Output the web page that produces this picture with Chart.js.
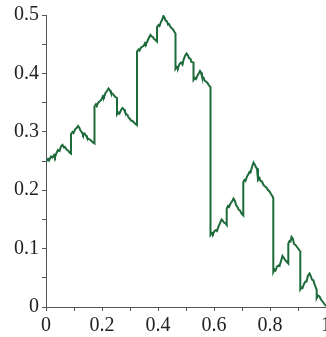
<!DOCTYPE html>
<html>
<head>
<meta charset="utf-8">
<script src="https://cdn.jsdelivr.net/npm/chart.js@4"></script>
<style>
  html, body { margin: 0; padding: 0; background: #fff; overflow: hidden; }
  #box { position: absolute; left: 0; top: 0; width: 346px; height: 337px; }
</style>
</head>
<body>
<div id="box"><canvas id="myChart" width="346" height="337"></canvas></div>
<script>
// 곡선의 꼭짓점 (x, y) - 그림에서 읽은 값
let xs = [
    0, 0.0071, 0.0107, 0.0179, 0.0232, 0.0286, 0.0321, 0.0375, 0.0429, 0.0482, 0.0536, 0.0589, 0.0643, 0.0679, 0.0732, 0.0786, 0.0839, 0.0893,
    0.0893, 0.0946, 0.0982, 0.1036, 0.1089, 0.1143, 0.1196, 0.1232, 0.1286, 0.1321, 0.1375, 0.1429, 0.1464, 0.1518, 0.1571, 0.1625, 0.1679, 0.1732,
    0.1732, 0.1786, 0.1821, 0.1875, 0.1929, 0.1982, 0.2036, 0.2071, 0.2125, 0.2179, 0.2232, 0.2286, 0.2321, 0.2375, 0.2429, 0.2482, 0.2536,
    0.2536, 0.2589, 0.2625, 0.2679, 0.2732, 0.2786, 0.2821, 0.2857, 0.2911, 0.2946, 0.3000, 0.3036, 0.3089, 0.3143, 0.3196, 0.3250,
    0.3250, 0.3304, 0.3339, 0.3393, 0.3446, 0.3500, 0.3536, 0.3571, 0.3625, 0.3679, 0.3732, 0.3768, 0.3821, 0.3857, 0.3911, 0.3964,
    0.3964, 0.4018, 0.4054, 0.4107, 0.4143, 0.4196, 0.4232, 0.4268, 0.4321, 0.4357, 0.4393, 0.4446, 0.4500, 0.4536, 0.4589, 0.4625,
    0.4625, 0.4679, 0.4714, 0.4768, 0.4821, 0.4875, 0.4911, 0.4964, 0.5018, 0.5071, 0.5107, 0.5161, 0.5196, 0.5268,
    0.5268, 0.5321, 0.5357, 0.5411, 0.5464, 0.5500, 0.5536, 0.5571, 0.5625, 0.5661, 0.5714, 0.5768, 0.5821, 0.5875,
    0.5875, 0.5929, 0.5964, 0.6018, 0.6071, 0.6107, 0.6161, 0.6214, 0.6268, 0.6321, 0.6357, 0.6411, 0.6454,
    0.6454, 0.6500, 0.6536, 0.6589, 0.6643, 0.6696, 0.6750, 0.6786, 0.6839, 0.6875, 0.6929, 0.6982, 0.7046,
    0.7046, 0.7089, 0.7125, 0.7179, 0.7232, 0.7268, 0.7304, 0.7357, 0.7411, 0.7464, 0.7500, 0.7536, 0.7571,
    0.7571, 0.7625, 0.7661, 0.7714, 0.7768, 0.7821, 0.7875, 0.7929, 0.7982, 0.8036, 0.8082, 0.8118,
    0.8118, 0.8161, 0.8196, 0.8250, 0.8304, 0.8339, 0.8393, 0.8446, 0.8500, 0.8536, 0.8589, 0.8654,
    0.8654, 0.8696, 0.8732, 0.8768, 0.8821, 0.8857, 0.8911, 0.8964, 0.9018, 0.9082,
    0.9082, 0.9125, 0.9161, 0.9214, 0.9268, 0.9304, 0.9357, 0.9411, 0.9464, 0.9500, 0.9554, 0.9589, 0.9668,
    0.9668, 0.9714, 0.9768, 0.9821, 0.9875, 0.9929, 1.0
];
let ys = [
    0.2491, 0.2534, 0.2509, 0.2577, 0.2560, 0.2603, 0.2568, 0.2637, 0.2688, 0.2671, 0.2748, 0.2774, 0.2731, 0.2740, 0.2697, 0.2680, 0.2646, 0.2628,
    0.2962, 0.2997, 0.2979, 0.3039, 0.3065, 0.3099, 0.3065, 0.3022, 0.2988, 0.2945, 0.2971, 0.2937, 0.2902, 0.2877, 0.2868, 0.2842, 0.2817, 0.2800,
    0.3433, 0.3476, 0.3459, 0.3502, 0.3527, 0.3553, 0.3613, 0.3596, 0.3664, 0.3699, 0.3741, 0.3707, 0.3664, 0.3656, 0.3622, 0.3596, 0.3579,
    0.3296, 0.3330, 0.3313, 0.3373, 0.3408, 0.3382, 0.3339, 0.3305, 0.3288, 0.3245, 0.3219, 0.3193, 0.3185, 0.3159, 0.3134, 0.3116,
    0.4375, 0.4409, 0.4392, 0.4443, 0.4461, 0.4478, 0.4521, 0.4503, 0.4555, 0.4615, 0.4658, 0.4632, 0.4623, 0.4589, 0.4572, 0.4546,
    0.4795, 0.4829, 0.4812, 0.4880, 0.4914, 0.4983, 0.4957, 0.4906, 0.4889, 0.4837, 0.4846, 0.4795, 0.4769, 0.4752, 0.4709, 0.4683,
    0.4075, 0.4110, 0.4092, 0.4161, 0.4187, 0.4152, 0.4229, 0.4298, 0.4341, 0.4307, 0.4264, 0.4247, 0.4195, 0.4187,
    0.3887, 0.3921, 0.3904, 0.3964, 0.4007, 0.4041, 0.4015, 0.3947, 0.3930, 0.3878, 0.3861, 0.3836, 0.3793, 0.3767,
    0.1233, 0.1267, 0.1250, 0.1301, 0.1318, 0.1301, 0.1378, 0.1438, 0.1498, 0.1473, 0.1447, 0.1430, 0.1404,
    0.1687, 0.1729, 0.1712, 0.1772, 0.1807, 0.1858, 0.1815, 0.1747, 0.1712, 0.1670, 0.1652, 0.1601, 0.1567,
    0.2140, 0.2175, 0.2158, 0.2235, 0.2277, 0.2312, 0.2303, 0.2397, 0.2474, 0.2432, 0.2389, 0.2372, 0.2329,
    0.2175, 0.2209, 0.2158, 0.2149, 0.2089, 0.2063, 0.2046, 0.2003, 0.1978, 0.1935, 0.1901, 0.1866,
    0.0599, 0.0642, 0.0625, 0.0693, 0.0711, 0.0702, 0.0788, 0.0873, 0.0839, 0.0805, 0.0779, 0.0745,
    0.1087, 0.1130, 0.1122, 0.1199, 0.1164, 0.1079, 0.1062, 0.1027, 0.0993, 0.0950,
    0.0300, 0.0334, 0.0325, 0.0394, 0.0437, 0.0437, 0.0539, 0.0574, 0.0522, 0.0471, 0.0454, 0.0394, 0.0291,
    0.0154, 0.0197, 0.0180, 0.0128, 0.0094, 0.0060, 0.0017
];

// 눈금 라벨
let xTickLabels = ["0", "0.2", "0.4", "0.6", "0.8", "1"];
let yTickLabels = ["0", "0.1", "0.2", "0.3", "0.4", "0.5"];

let points = [];
for (let i = 0; i < xs.length; i++) {
    points.push({ x: xs[i], y: ys[i] });
}

let axisColor = "#555";
let tickFont = { family: "'Liberation Serif', 'DejaVu Serif', serif", size: 20 };

let config = {
    type: "scatter",
    data: {
        datasets: [
            {
                data: points,
                showLine: true,
                borderColor: "#1d6b3a",
                borderWidth: 2,
                pointRadius: 0,
                tension: 0,
                fill: false
            }
        ]
    },
    options: {
        responsive: false,
        animation: false,
        layout: { padding: { left: 0, right: 20, top: 15, bottom: 0 } },
        plugins: { legend: { display: false }, tooltip: { enabled: false } },
        scales: {
            x: {
                type: "linear",
                min: 0,
                max: 1,
                border: { display: true, color: axisColor, width: 1 },
                grid: { drawOnChartArea: false, drawTicks: true, tickLength: 4, tickColor: axisColor },
                ticks: {
                    stepSize: 0.1,
                    autoSkip: false,
                    maxRotation: 0,
                    padding: 3,
                    color: "#222",
                    font: tickFont,
                    callback: function (value, index) {
                        return index % 2 === 0 ? xTickLabels[index / 2] : "";
                    }
                },
                afterFit: function (axis) { axis.height = 30; }
            },
            y: {
                type: "linear",
                min: 0,
                max: 0.5,
                border: { display: true, color: axisColor, width: 1 },
                grid: { drawOnChartArea: false, drawTicks: true, tickLength: 4, tickColor: axisColor },
                ticks: {
                    stepSize: 0.05,
                    autoSkip: false,
                    padding: 3,
                    color: "#222",
                    font: tickFont,
                    callback: function (value, index) {
                        return index % 2 === 0 ? yTickLabels[index / 2] : "";
                    }
                },
                afterFit: function (axis) { axis.width = 46; }
            }
        }
    }
};

let ctx = document.getElementById("myChart");
new Chart(ctx, config);
</script>
</body>
</html>
